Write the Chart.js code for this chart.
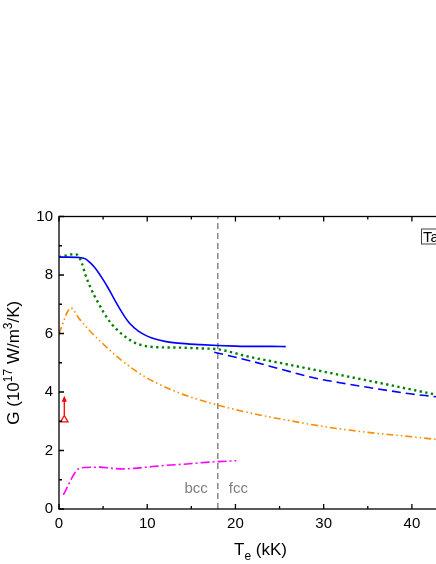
<!DOCTYPE html>
<html>
<head>
<meta charset="utf-8">
<script src="https://cdn.jsdelivr.net/npm/chart.js@4.4.0/dist/chart.umd.min.js"></script>
<style>
  html, body { margin: 0; padding: 0; background: #fff; overflow: hidden; }
  #wrap { width: 476px; height: 564px; }
</style>
</head>
<body>
<div id="wrap"><canvas id="gChart" width="476" height="564"></canvas></div>
<script>
// values (Te in kK, G in 1e17 W/m^3/K)
const bccX = [0, 1, 2.3, 3.0, 3.5, 4.0, 4.5, 5.0, 5.5, 6.0, 6.5, 7.0, 7.5, 8.0, 9.0, 10.0, 11.0, 12.0, 13.5, 16, 18, 20, 22, 24, 25.7];
const bccY = [8.61, 8.61, 8.6, 8.55, 8.43, 8.27, 8.07, 7.84, 7.59, 7.32, 7.05, 6.79, 6.55, 6.35, 6.08, 5.91, 5.8, 5.73, 5.67, 5.62, 5.59, 5.57, 5.56, 5.56, 5.55];

const fccX = [17.6, 19, 21.6, 25.4, 29.1, 32, 35, 40, 42.4, 45];
const fccY = [5.36, 5.26, 5.07, 4.76, 4.47, 4.31, 4.16, 3.93, 3.85, 3.76];

const greenX = [0, 0.7, 1.3, 1.9, 2.3, 2.6, 3.0, 3.6, 4.0, 4.5, 5.1, 5.9, 6.6, 7.6, 8.7, 10, 11.3, 13.4, 16, 18, 21.6, 25.3, 29.1, 32.9, 36.5, 40, 42.4, 45];
const greenY = [8.61, 8.66, 8.7, 8.71, 8.6, 8.4, 8.0, 7.55, 7.3, 7.02, 6.7, 6.35, 6.12, 5.87, 5.67, 5.56, 5.53, 5.52, 5.49, 5.46, 5.2, 4.98, 4.75, 4.52, 4.3, 4.08, 3.93, 3.77];

const orangeX = [0, 1.35, 2.3, 3.4, 5.0, 7.1, 9.0, 10.9, 12.8, 14.6, 16.5, 18.4, 22, 26, 30, 35, 40, 42.4, 45];
const orangeY = [6.0, 6.87, 6.5, 6.12, 5.64, 5.08, 4.66, 4.33, 4.07, 3.86, 3.68, 3.52, 3.26, 3.03, 2.82, 2.62, 2.47, 2.39, 2.31];

const magentaX = [0.49, 2.2, 3.0, 4.6, 6.0, 7.3, 8.5, 9.9, 12, 14.5, 16, 18, 20.1];
const magentaY = [0.48, 1.37, 1.42, 1.43, 1.39, 1.37, 1.39, 1.43, 1.49, 1.54, 1.58, 1.62, 1.65];

// experimental point (lower bound, arrow up)
const expX = [0.6];
const expY = [3.05];
const expArrowTop = 3.87;

// bcc -> fcc transition
const phaseX = 18;
const phaseLabels = ['bcc', 'fcc'];

const xTicks = [0, 10, 20, 30, 40];
const xMinor = [5, 15, 25, 35, 45];
const yTicks = [0, 2, 4, 6, 8, 10];
const yMinor = [1, 3, 5, 7, 9];

const FONT = '"Liberation Sans", Arial, sans-serif';

function pts(xs, ys) {
  return xs.map((x, i) => ({ x: x, y: ys[i] }));
}

function drawRich(ctx, parts, cx, baseY, size) {
  const fontOf = p => (p[1] ? Math.round(size * 0.7) : size) + 'px ' + FONT;
  let total = 0;
  parts.forEach(p => { ctx.font = fontOf(p); total += ctx.measureText(p[0]).width; });
  let xp = cx - total / 2;
  parts.forEach(p => {
    ctx.font = fontOf(p);
    let dy = 0;
    if (p[1] === 'sup') dy = -size * 0.42;
    if (p[1] === 'sub') dy = size * 0.28;
    ctx.fillText(p[0], xp, baseY + dy);
    xp += ctx.measureText(p[0]).width;
  });
}

const decor = {
  id: 'decor',
  afterDatasetsDraw(chart) {
    const { ctx, chartArea: a, scales: { x, y } } = chart;
    ctx.save();

    // frame + inward ticks
    ctx.strokeStyle = '#000';
    ctx.lineWidth = 1.3;
    ctx.strokeRect(a.left, a.top, a.right - a.left, a.bottom - a.top);
    ctx.beginPath();
    const tick = (list, len) => {
      list.forEach(v => {
        const px = x.getPixelForValue(v);
        ctx.moveTo(px, a.bottom); ctx.lineTo(px, a.bottom - len);
        ctx.moveTo(px, a.top); ctx.lineTo(px, a.top + len);
      });
    };
    const ytick = (list, len) => {
      list.forEach(v => {
        const py = y.getPixelForValue(v);
        ctx.moveTo(a.left, py); ctx.lineTo(a.left + len, py);
        ctx.moveTo(a.right, py); ctx.lineTo(a.right - len, py);
      });
    };
    tick(xTicks, 5); tick(xMinor, 3);
    ytick(yTicks, 5); ytick(yMinor, 3);
    ctx.stroke();

    // arrow above the experimental point
    const ax = x.getPixelForValue(expX[0]);
    const aBase = y.getPixelForValue(expY[0]) - 4.5;
    const aTip = y.getPixelForValue(expArrowTop);
    ctx.strokeStyle = '#ff0000';
    ctx.fillStyle = '#ff0000';
    ctx.lineWidth = 1.3;
    ctx.beginPath();
    ctx.moveTo(ax, aBase);
    ctx.lineTo(ax, aTip + 4);
    ctx.stroke();
    ctx.beginPath();
    ctx.moveTo(ax, aTip);
    ctx.lineTo(ax - 2.6, aTip + 6);
    ctx.lineTo(ax + 2.6, aTip + 6);
    ctx.closePath();
    ctx.fill();

    // phase labels
    const px = x.getPixelForValue(phaseX);
    const ly = y.getPixelForValue(0.68);
    ctx.fillStyle = '#808080';
    ctx.font = '15px ' + FONT;
    ctx.textBaseline = 'middle';
    ctx.textAlign = 'right';
    ctx.fillText(phaseLabels[0], px - 10, ly);
    ctx.textAlign = 'left';
    ctx.fillText(phaseLabels[1], px + 11, ly);

    // "Ta" box
    ctx.font = '15px ' + FONT;
    ctx.textBaseline = 'alphabetic';
    ctx.fillStyle = '#000';
    const tx = a.right - 35;
    const tw = ctx.measureText('Ta').width;
    ctx.fillText('Ta', tx + 2, a.top + 25);
    ctx.strokeStyle = '#444';
    ctx.lineWidth = 1;
    ctx.strokeRect(tx + 0.5, a.top + 12.5, tw + 4, 15);

    // axis titles
    ctx.fillStyle = '#000';
    ctx.textAlign = 'left';
    drawRich(ctx, [['T'], ['e', 'sub'], [' (kK)']], (a.left + a.right) / 2 + 3, 555, 17);
    ctx.translate(19, (a.top + a.bottom) / 2);
    ctx.rotate(-Math.PI / 2);
    drawRich(ctx, [['G (10'], ['17', 'sup'], [' W/m'], ['3', 'sup'], ['/K)']], 0, 0, 17);
    ctx.restore();
  }
};

const ctx = document.getElementById('gChart').getContext('2d');
const gChart = new Chart(ctx, {
  type: 'scatter',
  data: {
    datasets: [
      {
        data: pts(expX, expY),
        pointStyle: 'triangle',
        pointRadius: 4.3,
        borderColor: '#ff0000',
        backgroundColor: 'rgba(0,0,0,0)',
        pointBorderWidth: 1.3,
        showLine: false
      },
      {
        data: pts(bccX, bccY),
        showLine: true, pointRadius: 0,
        borderColor: '#0000ff', borderWidth: 1.6, cubicInterpolationMode: 'monotone'
      },
      {
        data: pts(fccX, fccY),
        showLine: true, pointRadius: 0,
        borderColor: '#0000ff', borderWidth: 1.6, borderDash: [9, 5], cubicInterpolationMode: 'monotone'
      },
      {
        data: pts(greenX, greenY),
        showLine: true, pointRadius: 0,
        borderColor: '#008000', borderWidth: 2.4, borderDash: [2.3, 3.4], cubicInterpolationMode: 'monotone'
      },
      {
        data: pts(orangeX, orangeY),
        showLine: true, pointRadius: 0,
        borderColor: '#ff8c00', borderWidth: 1.6, borderDash: [7, 3, 1.5, 3, 1.5, 3], cubicInterpolationMode: 'monotone'
      },
      {
        data: pts(magentaX, magentaY),
        showLine: true, pointRadius: 0,
        borderColor: '#ff00ff', borderWidth: 1.6, borderDash: [9, 3, 2, 3], cubicInterpolationMode: 'monotone'
      },
      {
        data: [{ x: phaseX, y: 0 }, { x: phaseX, y: 10 }],
        showLine: true, pointRadius: 0,
        borderColor: '#808080', borderWidth: 1.4, borderDash: [6, 4]
      }
    ]
  },
  options: {
    responsive: false,
    animation: false,
    layout: { padding: { top: 216.5, right: 20, left: 0, bottom: 0 } },
    plugins: {
      legend: { display: false },
      tooltip: { enabled: false }
    },
    scales: {
      x: {
        type: 'linear', min: 0, max: 45,
        grid: { display: false, drawTicks: false },
        border: { display: false },
        ticks: { color: '#000', font: { family: FONT, size: 15 }, padding: 6, maxRotation: 0 },
        afterBuildTicks: s => { s.ticks = xTicks.map(v => ({ value: v })); },
        afterFit: s => { s.height = 55; }
      },
      y: {
        min: 0, max: 10,
        grid: { display: false, drawTicks: false },
        border: { display: false },
        ticks: { color: '#000', font: { family: FONT, size: 15 }, padding: 6 },
        afterBuildTicks: s => { s.ticks = yTicks.map(v => ({ value: v })); },
        afterFit: s => { s.width = 59; }
      }
    }
  },
  plugins: [decor]
});
</script>
</body>
</html>
